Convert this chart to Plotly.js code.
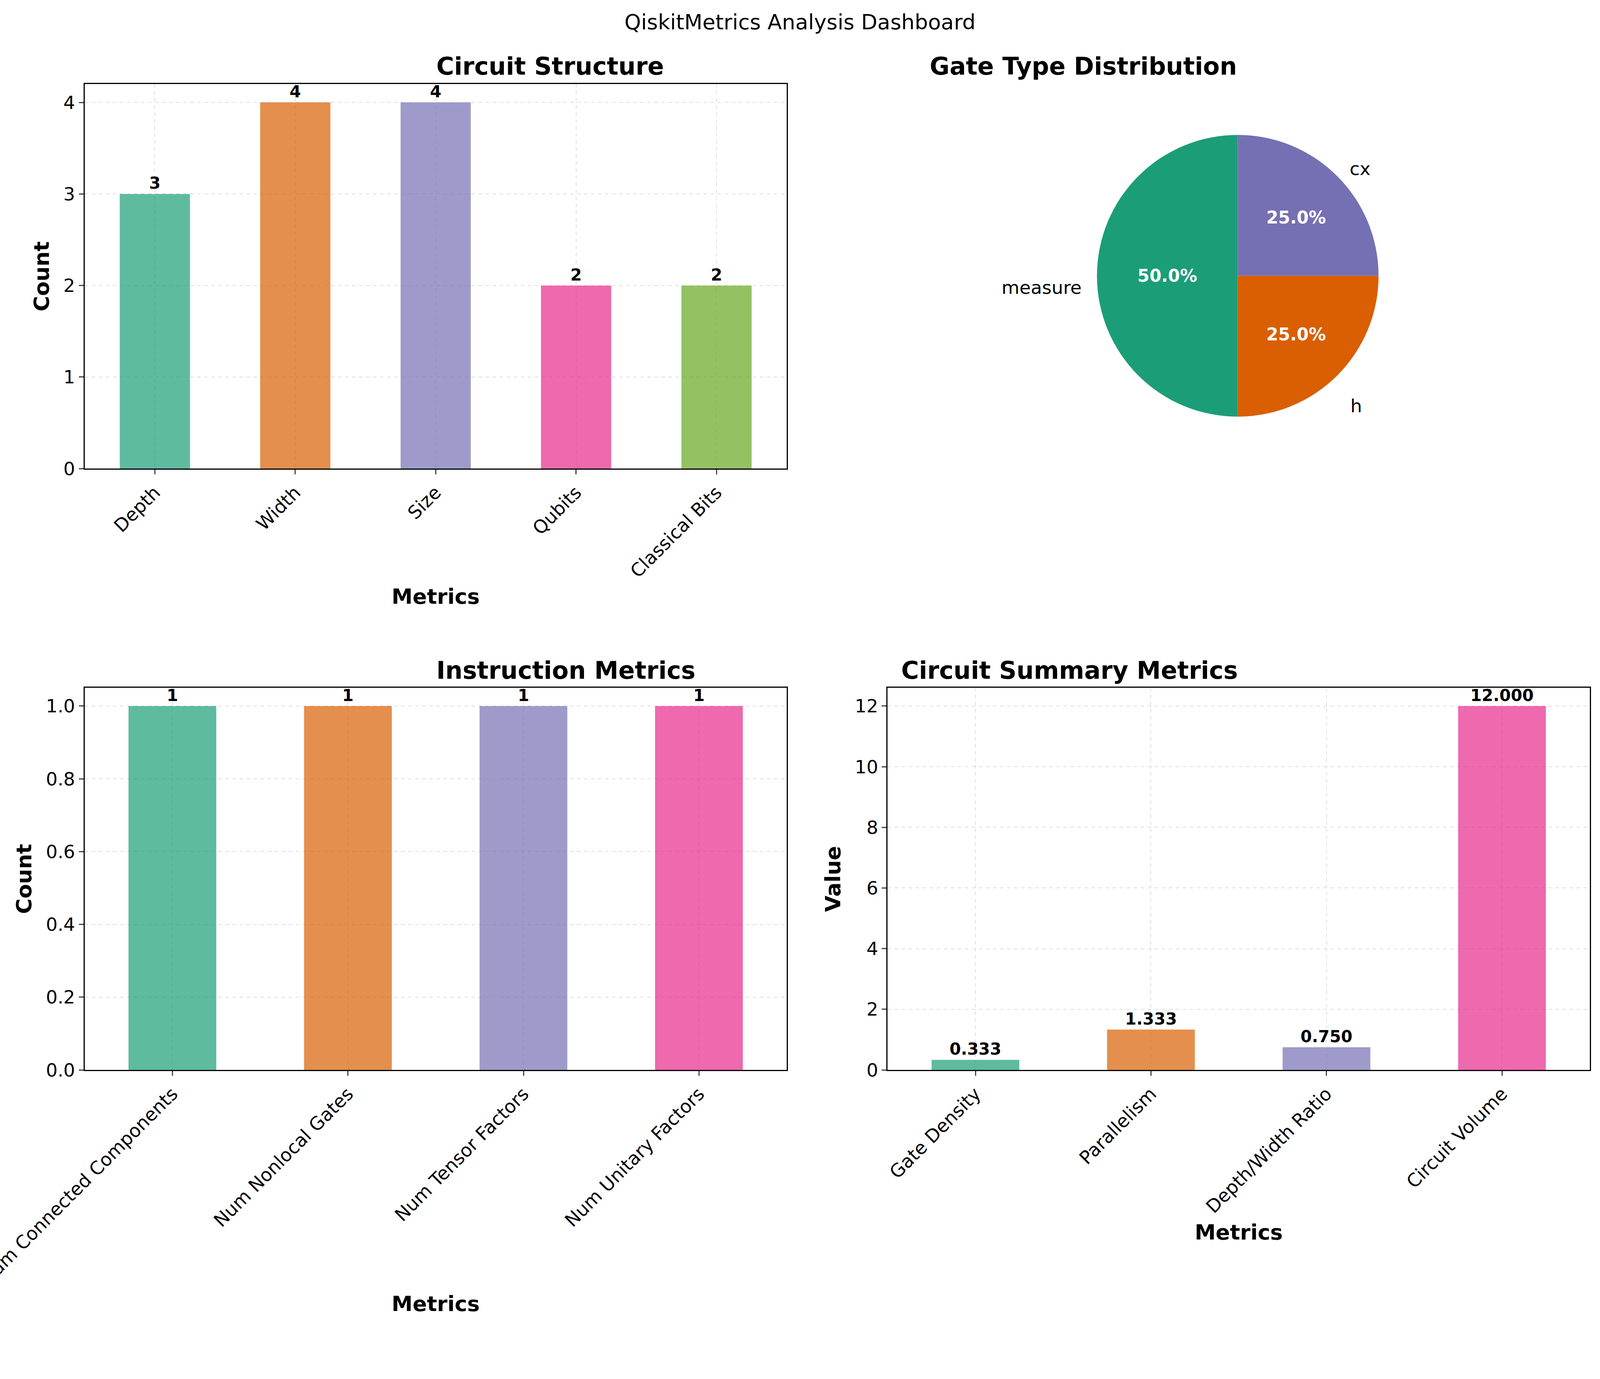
<!DOCTYPE html>
<html><head><script src="https://cdn.plot.ly/plotly-3.0.1.min.js"></script>
<style>html,body{margin:0;padding:0;overflow:hidden}</style></head><body>
<div id="c" style="width:100vw;height:100vh"></div>
<script>
const structCats = ["Depth","Width","Size","Qubits","Classical Bits"];
const structVals = [3,4,4,2,2];
const gateLabels = ["measure","h","cx"];
const gateVals = [2,1,1];
const instrCats = ["Num Connected Components","Num Nonlocal Gates","Num Tensor Factors","Num Unitary Factors"];
const instrVals = [1,1,1,1];
const sumCats = ["Gate Density","Parallelism","Depth/Width Ratio","Circuit Volume"];
const sumVals = [0.333,1.333,0.750,12.000];

const dark2 = ["#1b9e77","#d95f02","#7570b3","#e7298a","#66a61e"];
const F = "DejaVu Sans";
const txtFont = {family:F,size:42,color:"black",weight:"bold"};
function bar(x,y,xa,ya,fmt){
  return {type:"bar",x:x,y:y,xaxis:xa,yaxis:ya,width:0.5,
    marker:{color:dark2.slice(0,x.length),opacity:0.7},
    texttemplate:fmt,textposition:"outside",textfont:txtFont,cliponaxis:false,hoverinfo:"none"};
}
const pieLabels = gateLabels.slice().reverse();
const pieVals = gateVals.slice().reverse();
const pieColors = dark2.slice(0,3).reverse();
const data = [
  bar(structCats,structVals,"x","y","%{y:d}"),
  bar(instrCats,instrVals,"x2","y2","%{y:d}"),
  bar(sumCats,sumVals,"x3","y3","%{y:.3f}"),
  {type:"pie",labels:pieLabels,values:pieVals,sort:false,direction:"clockwise",rotation:0,
   marker:{colors:pieColors},textinfo:"percent",texttemplate:"%{percent:.1%}",textposition:"inside",
   insidetextorientation:"horizontal",
   textfont:{family:F,size:44,color:"white",weight:"bold"},domain:{x:[0.6856,0.8616],y:[0.689,0.911]},showlegend:false}
];
const tick = {family:F,size:47,color:"black"};
function xax(dom,anchor,n){return {domain:dom,anchor:anchor,range:[-0.5,n-0.5],tickangle:-45,tickfont:tick,
  showline:true,mirror:true,linecolor:"black",linewidth:3,ticks:"outside",ticklen:12,tickwidth:3,
  showgrid:true,gridcolor:"#dddddd",griddash:"dash",gridwidth:2,
  title:{text:"<b>Metrics</b>",font:{family:F,size:54,color:"black"},standoff:20}};}
function yax(dom,anchor,range,title,extra){return Object.assign({domain:dom,anchor:anchor,range:range,tickfont:tick,
  showline:true,mirror:true,linecolor:"black",linewidth:3,ticks:"outside",ticklen:12,tickwidth:3,
  showgrid:true,gridcolor:"#dddddd",griddash:"dash",gridwidth:2,zeroline:false,
  title:{text:"<b>"+title+"</b>",font:{family:F,size:54,color:"black"},standoff:20}},extra||{});}
const ttl=(t,x,y)=>({text:"<b>"+t+"</b>",x:x,y:y,xref:"paper",yref:"paper",showarrow:false,
  font:{family:F,size:62,color:"black"},yanchor:"bottom"});
const lab=(t,x,y,xa)=>({text:t,x:x,y:y,xref:"paper",yref:"paper",showarrow:false,xanchor:xa,
  font:{family:F,size:47,color:"black"}});
const layout = {
  autosize:true,paper_bgcolor:"white",plot_bgcolor:"white",showlegend:false,
  margin:{l:0,r:0,t:0,b:0},bargap:0.5,
  title:{text:"QiskitMetrics Analysis Dashboard",font:{family:F,size:54,color:"black"},x:0.5,y:0.984,xanchor:"center",yanchor:"middle"},
  xaxis:xax([0.0529,0.4917],"y",5),
  yaxis:yax([0.6602,0.939],"x",[0,4.2],"Count",{dtick:1}),
  xaxis2:xax([0.0529,0.4917],"y2",4),
  yaxis2:yax([0.2241,0.5012],"x2",[0,1.05],"Count",{dtick:0.2,tickformat:".1f"}),
  xaxis3:xax([0.5548,0.9936],"y3",4),
  yaxis3:yax([0.2241,0.5012],"x3",[0,12.6],"Value",{dtick:2}),
  annotations:[
    ttl("Circuit Structure",0.2723,0.941),
    ttl("Gate Type Distribution",0.7736,0.941),
    ttl("Instruction Metrics",0.2723,0.503),
    ttl("Circuit Summary Metrics",0.7742,0.503),
    lab("measure",0.6766,0.8,"right"),
    lab("h",0.8436,0.714,"left"),
    lab("cx",0.8431,0.886,"left")
  ]
};
Plotly.newPlot("c",data,layout,{staticPlot:true,responsive:true});
</script></body></html>
